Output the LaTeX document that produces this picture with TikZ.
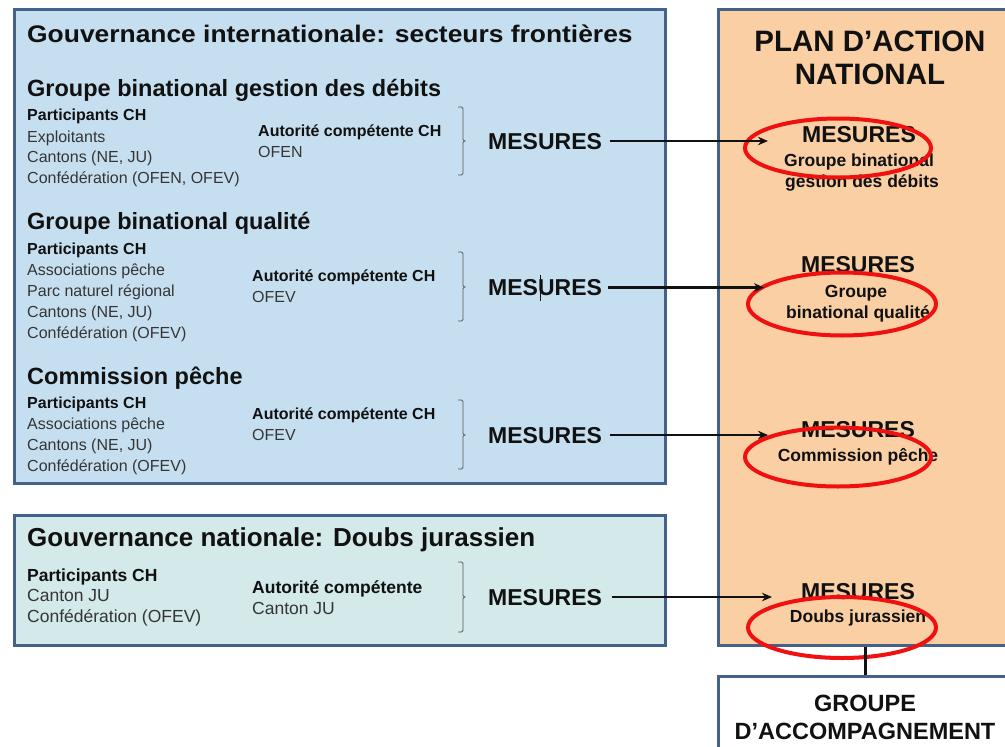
\documentclass[tikz,border=0pt]{standalone}
\usepackage{fontspec}
\setmainfont{Liberation Sans}
\newfontfamily\widesans[FakeStretch=1.1]{Liberation Sans}
\usetikzlibrary{arrows.meta,shapes.geometric}
\definecolor{boxblue}{HTML}{C6DFF0}
\definecolor{boxteal}{HTML}{D3E9EA}
\definecolor{boxorange}{HTML}{F9CFA3}
\definecolor{edgeblue}{HTML}{44618A}
\definecolor{ink}{HTML}{111111}
\definecolor{ringred}{HTML}{F01010}
\begin{document}
\begin{tikzpicture}[x=1pt,y=-1pt,
  panel/.style={draw=edgeblue,line width=3pt,inner sep=0,minimum width=#1},
  lbl/.style={anchor=west,inner sep=0,text=ink,text depth=0pt},
  head/.style={lbl,text height=16.8pt,font=\bfseries\fontsize{23.5}{26}\selectfont},
  sub/.style={lbl,text height=11.5pt,font=\bfseries\fontsize{16}{18}\selectfont},
  txt/.style={lbl,text height=11.5pt,text=ink!85,font=\fontsize{16}{18}\selectfont},
  nsub/.style={lbl,text height=12.5pt,font=\bfseries\fontsize{17.5}{20}\selectfont},
  ntxt/.style={lbl,text height=12.5pt,text=ink!85,font=\fontsize{17.5}{20}\selectfont},
  mes/.style={lbl,text height=16.5pt,font=\bfseries\fontsize{23}{26}\selectfont},
  omes/.style={lbl,anchor=center,text height=16.5pt,font=\bfseries\fontsize{23}{26}\selectfont},
  osub/.style={lbl,anchor=center,text height=12.5pt,font=\bfseries\fontsize{17.5}{20}\selectfont},
  big/.style={lbl,anchor=center,text height=21pt,font=\bfseries\fontsize{29.5}{32}\selectfont},
  acct/.style={lbl,anchor=center,text height=16.5pt,font=\bfseries\fontsize{23.5}{26}\selectfont},
  bracel/.style={draw=ink!70,line width=0.8pt,rounded corners=1.5pt},
  arr/.style={draw=ink,line width=2.2pt,-{Stealth[length=10pt,width=8.5pt]}},
  ring/.style={ellipse,draw=ringred,line width=4pt,inner sep=0,minimum width=#1},
]
\useasboundingbox (0,0) rectangle (1005,747);
\fill[white] (0,0) rectangle (1005,747);

% panels
\node[panel=651pt,fill=boxblue,minimum height=474pt] (intl) at (339.5,246) {};
\node[panel=294pt,fill=boxorange,minimum height=636pt] (plan) at (865,327) {};
\node[panel=651pt,fill=boxteal,minimum height=130pt] (natl) at (339.5,580) {};
\node[panel=294pt,fill=white,minimum height=84pt] (acc) at (865,718) {};

% titles
\node[head,text height=17.2pt,font=\widesans\bfseries\fontsize{24}{28}\selectfont] (tintl) at (27,34) {Gouvernance internationale: secteurs frontières};
\node[big] (plan1) at (870,41) {PLAN D’ACTION};
\node[big] (plan2) at (870,74) {NATIONAL};

% group 1
\node[head] (g1) at (27,88.5) {Groupe binational gestion des débits};
\node[sub] (g1p) at (27,114.5) {Participants CH};
\node[txt] (g1a) at (27,137) {Exploitants};
\node[txt] (g1b) at (27,157) {Cantons (NE, JU)};
\node[txt] (g1c) at (27,178) {Confédération (OFEN, OFEV)};
\node[sub] (g1x) at (258,130.5) {Autorité compétente CH};
\node[txt] (g1y) at (258,151.5) {OFEN};
\draw[bracel] (458,107) -- (463,107) -- (463,141) -- (467,141) -- (463,141) -- (463,175) -- (458,175);
\node[mes] (m1) at (488,141) {MESURES};

% group 2
\node[head] (g2) at (27,221.5) {Groupe binational qualité};
\node[sub] (g2p) at (27,249) {Participants CH};
\node[txt] (g2a) at (27,270) {Associations pêche};
\node[txt] (g2b) at (27,291) {Parc naturel régional};
\node[txt] (g2c) at (27,311.5) {Cantons (NE, JU)};
\node[txt] (g2d) at (27,332.5) {Confédération (OFEV)};
\node[sub] (g2x) at (252,276) {Autorité compétente CH};
\node[txt] (g2y) at (252,297) {OFEV};
\draw[bracel] (458,252) -- (463,252) -- (463,287) -- (467,287) -- (463,287) -- (463,321) -- (458,321);
\node[mes] (m2) at (488,287.5) {MESURES};
\draw[ink,line width=0.6pt] (540,275) -- (540,301);

% group 3
\node[head] (g3) at (27,376) {Commission pêche};
\node[sub] (g3p) at (27,402.5) {Participants CH};
\node[txt] (g3a) at (27,423.5) {Associations pêche};
\node[txt] (g3b) at (27,444.5) {Cantons (NE, JU)};
\node[txt] (g3c) at (27,465.5) {Confédération (OFEV)};
\node[sub] (g3x) at (252,414) {Autorité compétente CH};
\node[txt] (g3y) at (252,435) {OFEV};
\draw[bracel] (458,400) -- (463,400) -- (463,435) -- (467,435) -- (463,435) -- (463,469) -- (458,469);
\node[mes] (m3) at (488,435) {MESURES};

% national
\node[head,text height=18.6pt,font=\bfseries\fontsize{26}{30}\selectfont] (tnat) at (27,537) {Gouvernance nationale: Doubs jurassien};
\node[nsub] (n1p) at (27,575) {Participants CH};
\node[ntxt] (n1a) at (27,595.5) {Canton JU};
\node[ntxt] (n1b) at (27,616.5) {Confédération (OFEV)};
\node[nsub] (n1x) at (252,587) {Autorité compétente};
\node[ntxt] (n1y) at (252,608) {Canton JU};
\draw[bracel] (458,562) -- (463,562) -- (463,597) -- (467,597) -- (463,597) -- (463,632) -- (458,632);
\node[mes] (m4) at (488,597) {MESURES};

% plan side
\node[omes] (p1) at (859,134.5) {MESURES};
\node[osub] (p1a) at (859,160) {Groupe binational};
\node[osub] (p1b) at (862,181) {gestion des débits};
\node[omes] (p2) at (858,264.5) {MESURES};
\node[osub] (p2a) at (856,291) {Groupe};
\node[osub] (p2b) at (858,312) {binational qualité};
\node[omes] (p3) at (858,429) {MESURES};
\node[osub] (p3a) at (858,455) {Commission pêche};
\node[omes] (p4) at (858,591) {MESURES};
\node[osub] (p4a) at (858,616.5) {Doubs jurassien};

\node[acct] (acc1) at (865,703) {GROUPE};
\node[acct] (acc2) at (865,731) {D’ACCOMPAGNEMENT};

% rings
\node[ring=186pt,minimum height=59pt] (r1) at (838,148) {};
\node[ring=188pt,minimum height=63pt] (r2) at (842,304) {};
\node[ring=186pt,minimum height=59pt] (r3) at (838,457) {};
\node[ring=188pt,minimum height=61pt] (r4) at (842,627.5) {};

% arrows
\coordinate (t1) at (768,141);
\coordinate (t2) at (764,287.5);
\coordinate (t3) at (768,435);
\coordinate (t4) at (772,597);
\draw[arr] ([xshift=8pt]m1.east) -- (t1);
\draw[arr] ([xshift=6pt]m2.east) -- (t2);
\draw[arr] ([xshift=8pt]m3.east) -- (t3);
\draw[arr,line width=2.8pt] ([xshift=10pt]m4.east) -- (t4);

% link
\draw[ink,line width=3pt] (plan.south) -- (acc.north);
\end{tikzpicture}
\end{document}
